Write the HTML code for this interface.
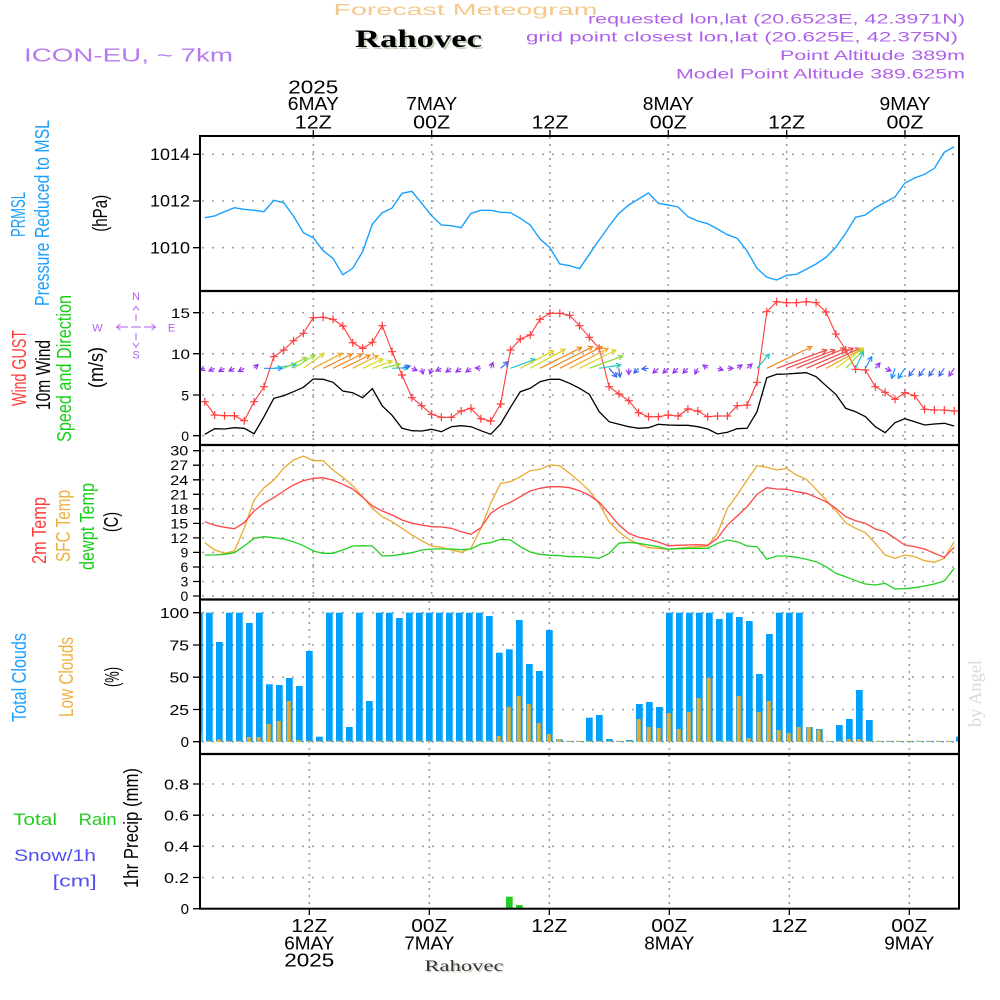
<!DOCTYPE html>
<html><head><meta charset="utf-8"><style>
html,body{margin:0;padding:0;background:#fff;}
svg{display:block;font-family:"Liberation Sans",sans-serif;}
</style></head><body>
<svg width="1000" height="1000" viewBox="0 0 1000 1000" xmlns="http://www.w3.org/2000/svg">
<defs>
<clipPath id="cp"><rect x="200" y="136" width="759" height="773"/></clipPath>
<marker id="pl" markerUnits="userSpaceOnUse" markerWidth="10" markerHeight="10" refX="5" refY="5" orient="0" viewBox="0 0 10 10" overflow="visible"><path d="M1,5H9M5,1V9" stroke="#ff3c3c" stroke-width="1.2" fill="none"/></marker>
<marker id="aP" markerUnits="userSpaceOnUse" markerWidth="8" markerHeight="8" refX="0" refY="0" viewBox="-6 -4 8 8" orient="auto" overflow="visible"><path d="M-4.5,-2.5L0,0L-4.5,2.5" fill="none" stroke="#9933ee" stroke-width="1.2"/></marker>
<marker id="aB" markerUnits="userSpaceOnUse" markerWidth="8" markerHeight="8" refX="0" refY="0" viewBox="-6 -4 8 8" orient="auto" overflow="visible"><path d="M-4.5,-2.5L0,0L-4.5,2.5" fill="none" stroke="#3366ee" stroke-width="1.2"/></marker>
<marker id="aC" markerUnits="userSpaceOnUse" markerWidth="8" markerHeight="8" refX="0" refY="0" viewBox="-6 -4 8 8" orient="auto" overflow="visible"><path d="M-4.5,-2.5L0,0L-4.5,2.5" fill="none" stroke="#1e90ff" stroke-width="1.2"/></marker>
<marker id="aT" markerUnits="userSpaceOnUse" markerWidth="8" markerHeight="8" refX="0" refY="0" viewBox="-6 -4 8 8" orient="auto" overflow="visible"><path d="M-4.5,-2.5L0,0L-4.5,2.5" fill="none" stroke="#22c8c0" stroke-width="1.2"/></marker>
<marker id="aG" markerUnits="userSpaceOnUse" markerWidth="8" markerHeight="8" refX="0" refY="0" viewBox="-6 -4 8 8" orient="auto" overflow="visible"><path d="M-4.5,-2.5L0,0L-4.5,2.5" fill="none" stroke="#90d838" stroke-width="1.2"/></marker>
<marker id="aY" markerUnits="userSpaceOnUse" markerWidth="8" markerHeight="8" refX="0" refY="0" viewBox="-6 -4 8 8" orient="auto" overflow="visible"><path d="M-4.5,-2.5L0,0L-4.5,2.5" fill="none" stroke="#dcd420" stroke-width="1.2"/></marker>
<marker id="aO" markerUnits="userSpaceOnUse" markerWidth="8" markerHeight="8" refX="0" refY="0" viewBox="-6 -4 8 8" orient="auto" overflow="visible"><path d="M-4.5,-2.5L0,0L-4.5,2.5" fill="none" stroke="#f0aa22" stroke-width="1.2"/></marker>
<marker id="aR" markerUnits="userSpaceOnUse" markerWidth="8" markerHeight="8" refX="0" refY="0" viewBox="-6 -4 8 8" orient="auto" overflow="visible"><path d="M-4.5,-2.5L0,0L-4.5,2.5" fill="none" stroke="#f08a22" stroke-width="1.2"/></marker>
<marker id="aD" markerUnits="userSpaceOnUse" markerWidth="8" markerHeight="8" refX="0" refY="0" viewBox="-6 -4 8 8" orient="auto" overflow="visible"><path d="M-4.5,-2.5L0,0L-4.5,2.5" fill="none" stroke="#f04848" stroke-width="1.2"/></marker>
</defs>

<!-- Header -->
<text x="333.5" y="15" font-size="16" fill="#f5c98a" textLength="264" lengthAdjust="spacingAndGlyphs">Forecast Meteogram</text>
<text x="357" y="49" font-family="Liberation Serif, serif" font-weight="bold" font-size="25" fill="#c4d2bc" textLength="127" lengthAdjust="spacingAndGlyphs">Rahovec</text>
<text x="355" y="47" font-family="Liberation Serif, serif" font-weight="bold" font-size="25" fill="#000" textLength="127" lengthAdjust="spacingAndGlyphs">Rahovec</text>
<text x="24" y="61.5" font-size="18.5" fill="#b57af0" textLength="209" lengthAdjust="spacingAndGlyphs">ICON-EU, ~ 7km</text>
<g font-size="14" fill="#b060e8" text-anchor="end">
<text x="965" y="23.3" textLength="377" lengthAdjust="spacingAndGlyphs">requested lon,lat (20.6523E, 42.3971N)</text>
<text x="958" y="41.7" textLength="432" lengthAdjust="spacingAndGlyphs">grid point closest lon,lat (20.625E, 42.375N)</text>
<text x="965" y="60" textLength="185" lengthAdjust="spacingAndGlyphs">Point Altitude 389m</text>
<text x="965" y="78.3" textLength="289" lengthAdjust="spacingAndGlyphs">Model Point Altitude 389.625m</text>
</g>

<!-- Top time labels -->
<g font-size="18.5" fill="#000" text-anchor="middle">
<text x="313.3" y="93.3" textLength="50" lengthAdjust="spacingAndGlyphs">2025</text>
<text x="313.3" y="110" textLength="51" lengthAdjust="spacingAndGlyphs">6MAY</text>
<text x="313.3" y="128.3" textLength="37" lengthAdjust="spacingAndGlyphs">12Z</text>
<text x="431.7" y="110" textLength="51" lengthAdjust="spacingAndGlyphs">7MAY</text>
<text x="431.7" y="128.3" textLength="37" lengthAdjust="spacingAndGlyphs">00Z</text>
<text x="550" y="128.3" textLength="37" lengthAdjust="spacingAndGlyphs">12Z</text>
<text x="668.3" y="110" textLength="51" lengthAdjust="spacingAndGlyphs">8MAY</text>
<text x="668.3" y="128.3" textLength="37" lengthAdjust="spacingAndGlyphs">00Z</text>
<text x="786.7" y="128.3" textLength="37" lengthAdjust="spacingAndGlyphs">12Z</text>
<text x="905" y="110" textLength="51" lengthAdjust="spacingAndGlyphs">9MAY</text>
<text x="905" y="128.3" textLength="37" lengthAdjust="spacingAndGlyphs">00Z</text>
</g>

<!-- Bottom time labels -->
<g font-size="18.5" fill="#000" text-anchor="middle">
<text x="309.3" y="932" textLength="36" lengthAdjust="spacingAndGlyphs">12Z</text>
<text x="309.3" y="949.3" textLength="50" lengthAdjust="spacingAndGlyphs">6MAY</text>
<text x="309.3" y="966.7" textLength="50" lengthAdjust="spacingAndGlyphs">2025</text>
<text x="429.3" y="932" textLength="36" lengthAdjust="spacingAndGlyphs">00Z</text>
<text x="429.3" y="949.3" textLength="50" lengthAdjust="spacingAndGlyphs">7MAY</text>
<text x="549.3" y="932" textLength="36" lengthAdjust="spacingAndGlyphs">12Z</text>
<text x="669.3" y="932" textLength="36" lengthAdjust="spacingAndGlyphs">00Z</text>
<text x="669.3" y="949.3" textLength="50" lengthAdjust="spacingAndGlyphs">8MAY</text>
<text x="789.3" y="932" textLength="36" lengthAdjust="spacingAndGlyphs">12Z</text>
<text x="909.3" y="932" textLength="36" lengthAdjust="spacingAndGlyphs">00Z</text>
<text x="909.3" y="949.3" textLength="50" lengthAdjust="spacingAndGlyphs">9MAY</text>
</g>
<text x="426" y="972.5" font-family="Liberation Serif, serif" font-size="16" fill="#c8d6c0" textLength="79" lengthAdjust="spacingAndGlyphs">Rahovec</text>
<text x="424.5" y="971" font-family="Liberation Serif, serif" font-size="16" fill="#333" textLength="79" lengthAdjust="spacingAndGlyphs">Rahovec</text>
<text transform="translate(981,693.5) rotate(-90)" text-anchor="middle" font-family="Liberation Serif, serif" font-size="18" fill="#d4ddd2" textLength="67" lengthAdjust="spacingAndGlyphs">by Angel</text>

<!-- Left rotated labels -->
<g font-size="20" text-anchor="middle" lengthAdjust="spacingAndGlyphs">
<text transform="translate(25,214.5) rotate(-90)" fill="#1a9fff" textLength="45" lengthAdjust="spacingAndGlyphs">PRMSL</text>
<text transform="translate(49,213) rotate(-90)" fill="#1a9fff" textLength="186" lengthAdjust="spacingAndGlyphs">Pressure Reduced to MSL</text>
<text transform="translate(107,213.3) rotate(-90)" fill="#000" textLength="37" lengthAdjust="spacingAndGlyphs">(hPa)</text>
<text transform="translate(26,368) rotate(-90)" fill="#ff3c3c" textLength="76" lengthAdjust="spacingAndGlyphs">Wind GUST</text>
<text transform="translate(50,375) rotate(-90)" fill="#000" textLength="70" lengthAdjust="spacingAndGlyphs">10m Wind</text>
<text transform="translate(71,368.5) rotate(-90)" fill="#14d014" textLength="147" lengthAdjust="spacingAndGlyphs">Speed and Direction</text>
<text transform="translate(103,367.5) rotate(-90)" fill="#000" textLength="41" lengthAdjust="spacingAndGlyphs">(m/s)</text>
<text transform="translate(46,530.5) rotate(-90)" fill="#ff3c3c" textLength="67" lengthAdjust="spacingAndGlyphs">2m Temp</text>
<text transform="translate(70,526) rotate(-90)" fill="#eeb040" textLength="72" lengthAdjust="spacingAndGlyphs">SFC Temp</text>
<text transform="translate(94,526.5) rotate(-90)" fill="#14d014" textLength="87" lengthAdjust="spacingAndGlyphs">dewpt Temp</text>
<text transform="translate(118,522) rotate(-90)" fill="#000" textLength="20" lengthAdjust="spacingAndGlyphs">(C)</text>
<text transform="translate(26,677.5) rotate(-90)" fill="#1a9fff" textLength="89" lengthAdjust="spacingAndGlyphs">Total Clouds</text>
<text transform="translate(73,677) rotate(-90)" fill="#eeb040" textLength="80" lengthAdjust="spacingAndGlyphs">Low Clouds</text>
<text transform="translate(119,677) rotate(-90)" fill="#000" textLength="20" lengthAdjust="spacingAndGlyphs">(%)</text>
<text transform="translate(138,828) rotate(-90)" fill="#000" textLength="120" lengthAdjust="spacingAndGlyphs">1hr Precip (mm)</text>
</g>
<g font-size="17">
<text x="13" y="825" fill="#22cc22" textLength="44" lengthAdjust="spacingAndGlyphs">Total</text>
<text x="78.7" y="825" fill="#22cc22" textLength="38" lengthAdjust="spacingAndGlyphs">Rain</text>
<text x="14" y="861" fill="#5050f0" textLength="82" lengthAdjust="spacingAndGlyphs">Snow/1h</text>
<text x="52.7" y="886.5" fill="#5050f0" textLength="44" lengthAdjust="spacingAndGlyphs">[cm]</text>
</g>

<!-- Compass -->
<g fill="#b060f0" font-size="11" text-anchor="middle">
<text x="136" y="300">N</text>
<text x="97.5" y="331.5">W</text>
<text x="171.5" y="331.5">E</text>
<text x="136" y="358.5">S</text>
</g>
<path d="M117,327H128M131,327H141M144,327H155M120.5,324L116.5,327L120.5,330M151.5,324L155.5,327L151.5,330M136,314V321M136,333V340M133,310.5L136,306.5L139,310.5M133,343L136,347L139,343" stroke="#b060f0" stroke-width="1" fill="none"/>

<!-- Grid lines -->
<g stroke="#a0a0a0" stroke-width="1.6" stroke-dasharray="2 8" fill="none">
<path d="M202,154.3H959M202,201H959M202,247.7H959M202,312.7H959M202,353.7H959M202,395H959M202,435.7H959M202,450.7H959M202,465.2H959M202,479.8H959M202,494.3H959M202,508.8H959M202,523.4H959M202,537.9H959M202,552.4H959M202,567H959M202,581.5H959M202,596H959M202,612.7H959M202,645H959M202,677.2H959M202,709.5H959M202,741.7H959M202,784H959M202,815.2H959M202,846.3H959M202,877.5H959"/>
</g>
<g stroke="#a0a0a0" stroke-width="1.6" stroke-dasharray="2 5" fill="none">
<path d="M313.3,137V599M431.7,137V599M550,137V599M668.3,137V599M786.7,137V599M905,137V599"/>
<path d="M309.3,601V908M429.3,601V908M549.3,601V908M669.3,601V908M789.3,601V908M909.3,601V908"/>
</g>

<!-- Y tick labels -->
<g font-size="16.3" text-anchor="end" fill="#000">
<text x="190" y="160" textLength="40" lengthAdjust="spacingAndGlyphs">1014</text>
<text x="190" y="206.7" textLength="40" lengthAdjust="spacingAndGlyphs">1012</text>
<text x="190" y="253.3" textLength="40" lengthAdjust="spacingAndGlyphs">1010</text>
</g>
<g font-size="14" text-anchor="end" fill="#000">
<text x="190" y="318.2" textLength="19" lengthAdjust="spacingAndGlyphs">15</text>
<text x="190" y="359.2" textLength="19" lengthAdjust="spacingAndGlyphs">10</text>
<text x="189" y="400.5">5</text>
<text x="189" y="441.2">0</text>
<text x="188.3" y="455.7" textLength="18" lengthAdjust="spacingAndGlyphs">30</text>
<text x="188.3" y="470.2" textLength="18" lengthAdjust="spacingAndGlyphs">27</text>
<text x="188.3" y="484.8" textLength="18" lengthAdjust="spacingAndGlyphs">24</text>
<text x="188.3" y="499.3" textLength="18" lengthAdjust="spacingAndGlyphs">21</text>
<text x="188.3" y="513.8" textLength="18" lengthAdjust="spacingAndGlyphs">18</text>
<text x="188.3" y="528.4" textLength="18" lengthAdjust="spacingAndGlyphs">15</text>
<text x="188.3" y="542.9" textLength="18" lengthAdjust="spacingAndGlyphs">12</text>
<text x="188.3" y="557.4">9</text>
<text x="188.3" y="572">6</text>
<text x="188.3" y="586.5">3</text>
<text x="188.3" y="601">0</text>
</g>
<g font-size="15" text-anchor="end" fill="#000">
<text x="189" y="618.2" textLength="29" lengthAdjust="spacingAndGlyphs">100</text>
<text x="189" y="650.5" textLength="19.5" lengthAdjust="spacingAndGlyphs">75</text>
<text x="189" y="682.7" textLength="19.5" lengthAdjust="spacingAndGlyphs">50</text>
<text x="189" y="715" textLength="19.5" lengthAdjust="spacingAndGlyphs">25</text>
<text x="189" y="747.2">0</text>
<text x="189" y="789.3" textLength="25" lengthAdjust="spacingAndGlyphs">0.8</text>
<text x="189" y="820.5" textLength="25" lengthAdjust="spacingAndGlyphs">0.6</text>
<text x="189" y="851.6" textLength="25" lengthAdjust="spacingAndGlyphs">0.4</text>
<text x="189" y="882.8" textLength="25" lengthAdjust="spacingAndGlyphs">0.2</text>
<text x="189" y="914">0</text>
</g>

<!-- ticks -->
<path d="M193,154.3H200M193,201H200M193,247.7H200M193,312.7H200M193,353.7H200M193,395H200M193,435.7H200M193,450.7H200M193,465.2H200M193,479.8H200M193,494.3H200M193,508.8H200M193,523.4H200M193,537.9H200M193,552.4H200M193,567H200M193,581.5H200M193,596H200M193,612.7H200M193,645H200M193,677.2H200M193,709.5H200M193,741.7H200M193,784H200M193,815.2H200M193,846.3H200M193,877.5H200M193,908.7H200M313.3,130V136M431.7,130V136M550,130V136M668.3,130V136M786.7,130V136M905,130V136M309.3,909V915M429.3,909V915M549.3,909V915M669.3,909V915M789.3,909V915M909.3,909V915" stroke="#000" stroke-width="1.3" fill="none"/>

<g clip-path="url(#cp)">
<!-- Clouds total -->
<g fill="#00a0ff">
<rect x="200" y="612.7" width="2.7" height="129"/>
<rect x="206" y="612.7" width="6.7" height="129"/>
<rect x="216" y="642" width="6.7" height="99.7"/>
<rect x="226" y="612.7" width="6.7" height="129"/>
<rect x="236" y="612.7" width="6.7" height="129"/>
<rect x="246" y="623" width="6.7" height="118.7"/>
<rect x="256" y="612.7" width="6.7" height="129"/>
<rect x="266" y="684.3" width="6.7" height="57.4"/>
<rect x="276" y="685" width="6.7" height="56.7"/>
<rect x="286" y="678" width="6.7" height="63.7"/>
<rect x="296" y="686" width="6.7" height="55.7"/>
<rect x="306" y="651" width="6.7" height="90.7"/>
<rect x="316" y="736.7" width="6.7" height="5"/>
<rect x="326" y="612.7" width="6.7" height="129"/>
<rect x="336" y="612.7" width="6.7" height="129"/>
<rect x="346" y="727" width="6.7" height="14.7"/>
<rect x="356" y="612.7" width="6.7" height="129"/>
<rect x="366" y="701" width="6.7" height="40.7"/>
<rect x="376" y="612.7" width="6.7" height="129"/>
<rect x="386" y="612.7" width="6.7" height="129"/>
<rect x="396" y="618" width="6.7" height="123.7"/>
<rect x="406" y="612.7" width="6.7" height="129"/>
<rect x="416" y="612.7" width="6.7" height="129"/>
<rect x="426" y="612.7" width="6.7" height="129"/>
<rect x="436" y="612.7" width="6.7" height="129"/>
<rect x="446" y="612.7" width="6.7" height="129"/>
<rect x="456" y="612.7" width="6.7" height="129"/>
<rect x="466" y="612.7" width="6.7" height="129"/>
<rect x="476" y="612.7" width="6.7" height="129"/>
<rect x="486" y="616" width="6.7" height="125.7"/>
<rect x="496" y="652.7" width="6.7" height="89"/>
<rect x="506" y="649.3" width="6.7" height="92.4"/>
<rect x="516" y="620" width="6.7" height="121.7"/>
<rect x="526" y="664" width="6.7" height="77.7"/>
<rect x="536" y="671" width="6.7" height="70.7"/>
<rect x="546" y="630" width="6.7" height="111.7"/>
<rect x="556" y="739.3" width="6.7" height="2.4"/>
<rect x="566" y="741" width="6.7" height="0.8"/>
<rect x="576" y="741" width="6.7" height="0.8"/>
<rect x="586" y="717.7" width="6.7" height="24"/>
<rect x="596" y="715" width="6.7" height="26.7"/>
<rect x="606" y="739" width="6.7" height="2.7"/>
<rect x="616" y="741" width="6.7" height="0.8"/>
<rect x="626" y="740" width="6.7" height="1.7"/>
<rect x="636" y="704" width="6.7" height="37.7"/>
<rect x="646" y="702" width="6.7" height="39.7"/>
<rect x="656" y="707" width="6.7" height="34.7"/>
<rect x="666" y="612.7" width="6.7" height="129"/>
<rect x="676" y="612.7" width="6.7" height="129"/>
<rect x="686" y="612.7" width="6.7" height="129"/>
<rect x="696" y="612.7" width="6.7" height="129"/>
<rect x="706" y="612.7" width="6.7" height="129"/>
<rect x="716" y="619" width="6.7" height="122.7"/>
<rect x="726" y="612.7" width="6.7" height="129"/>
<rect x="736" y="617" width="6.7" height="124.7"/>
<rect x="746" y="621" width="6.7" height="120.7"/>
<rect x="756" y="674" width="6.7" height="67.7"/>
<rect x="766" y="634" width="6.7" height="107.7"/>
<rect x="776" y="612.7" width="6.7" height="129"/>
<rect x="786" y="612.7" width="6.7" height="129"/>
<rect x="796" y="612.7" width="6.7" height="129"/>
<rect x="806" y="727" width="6.7" height="14.7"/>
<rect x="816" y="729" width="6.7" height="12.7"/>
<rect x="826" y="741" width="6.7" height="0.8"/>
<rect x="836" y="725" width="6.7" height="16.7"/>
<rect x="846" y="719" width="6.7" height="22.7"/>
<rect x="856" y="690" width="6.7" height="51.7"/>
<rect x="866" y="720" width="6.7" height="21.7"/>
<rect x="876" y="741" width="6.7" height="0.8"/>
<rect x="886" y="741" width="6.7" height="0.8"/>
<rect x="896" y="741" width="6.7" height="0.8"/>
<rect x="906" y="741" width="6.7" height="0.8"/>
<rect x="916" y="741" width="6.7" height="0.8"/>
<rect x="926" y="741" width="6.7" height="0.8"/>
<rect x="936" y="741" width="6.7" height="0.8"/>
<rect x="946" y="741" width="6.7" height="0.8"/>
<rect x="956" y="736.7" width="3" height="5"/>
</g>
<!-- Low clouds -->
<path d="M196.7,741.2H960" stroke="#e8aa28" stroke-width="1" stroke-dasharray="4 6" fill="none"/>
<g fill="#e8aa28">
<rect x="200" y="731" width="1.7" height="10.7"/>
<rect x="216.7" y="739.3" width="4" height="2.4"/>
<rect x="246.7" y="737" width="4" height="4.7"/>
<rect x="256.7" y="737" width="4" height="4.7"/>
<rect x="266.7" y="724" width="4" height="17.7"/>
<rect x="276.7" y="721" width="4" height="20.7"/>
<rect x="286.7" y="701" width="4" height="40.7"/>
<rect x="296.7" y="740" width="4" height="1.7"/>
<rect x="496.7" y="736" width="4" height="5.7"/>
<rect x="506.7" y="707" width="4" height="34.7"/>
<rect x="516.7" y="696" width="4" height="45.7"/>
<rect x="526.7" y="704" width="4" height="37.7"/>
<rect x="536.7" y="723" width="4" height="18.7"/>
<rect x="546.7" y="734" width="4" height="7.7"/>
<rect x="556.7" y="739.3" width="4" height="2.4"/>
<rect x="636.7" y="719" width="4" height="22.7"/>
<rect x="646.7" y="727" width="4" height="14.7"/>
<rect x="656.7" y="728" width="4" height="13.7"/>
<rect x="666.7" y="713" width="4" height="28.7"/>
<rect x="676.7" y="729" width="4" height="12.7"/>
<rect x="686.7" y="712" width="4" height="29.7"/>
<rect x="696.7" y="698" width="4" height="43.7"/>
<rect x="706.7" y="677.7" width="4" height="64"/>
<rect x="736.7" y="696" width="4" height="45.7"/>
<rect x="746.7" y="738" width="4" height="3.7"/>
<rect x="756.7" y="712" width="4" height="29.7"/>
<rect x="766.7" y="701" width="4" height="40.7"/>
<rect x="776.7" y="730" width="4" height="11.7"/>
<rect x="786.7" y="733" width="4" height="8.7"/>
<rect x="796.7" y="727" width="4" height="14.7"/>
<rect x="806.7" y="727" width="4" height="14.7"/>
<rect x="816.7" y="729.7" width="4" height="12"/>
<rect x="846.7" y="739" width="4" height="2.7"/>
<rect x="856.7" y="739" width="4" height="2.7"/>
</g>
<!-- Precip -->
<g fill="#22cc22">
<rect x="506" y="896.7" width="6.7" height="12"/>
<rect x="516" y="905" width="6.7" height="3.7"/>
</g>

<!-- Pressure -->
<polyline fill="none" stroke="#18a0ff" stroke-width="1.4" points="204.8,217.7 214.7,216 224.5,211.7 234.4,207.7 244.2,209.3 254.1,210.3 264,211.7 273.8,200.3 283.7,202.7 293.5,216 303.4,232.7 313.3,237.7 323.1,250.7 333,258.3 342.8,274.7 352.7,268.3 362.6,251.7 372.4,224 382.3,212.7 392.1,208 402,193.3 411.9,191.3 421.7,203.3 431.6,215.7 441.4,225 451.3,225.7 461.2,227.7 471,213.3 480.9,210.3 490.7,210.3 500.6,212.3 510.5,212.7 520.3,218.3 530.2,225 540,239 549.9,247.7 559.8,264 569.6,265.7 579.5,268.7 589.3,254.3 599.2,240 609.1,226 618.9,213.3 628.8,205 638.6,199 648.5,193 658.4,203.3 668.2,205 678.1,207 687.9,216.7 697.8,221 707.7,223.7 717.5,229 727.4,234.7 737.2,238.3 747.1,251 757,268.3 766.8,277.3 776.7,280 786.5,275.3 796.4,274.3 806.3,269.3 816.1,264 826,257.3 835.8,247.3 845.7,233.3 855.6,217.3 865.4,215 875.3,207.7 885.1,202.3 895,197 904.9,183 914.7,178 924.6,174.3 934.4,168.3 944.3,152.3 954.2,146.7"/>

<!-- Wind speed -->
<polyline fill="none" stroke="#000" stroke-width="1.3" points="204.8,434.3 214.7,428.7 224.5,429 234.4,427.7 244.2,428.3 254.1,433.7 264,416.7 273.8,398.3 283.7,395.7 293.5,391.7 303.4,387.3 313.3,379 323.1,379.3 333,382.3 342.8,391 352.7,392.7 362.6,397.7 372.4,388.7 382.3,406 392.1,415.3 402,428.3 411.9,430.7 421.7,431 431.6,429.3 441.4,431.7 451.3,426.7 461.2,425.7 471,426.7 480.9,430.7 490.7,434.3 500.6,424 510.5,407.3 520.3,391.7 530.2,388.3 540,381.7 549.9,379.3 559.8,379.3 569.6,383.3 579.5,388.3 589.3,394.3 599.2,411.7 609.1,421.7 618.9,424.3 628.8,426.7 638.6,428.3 648.5,427.7 658.4,424.3 668.2,425 678.1,425.3 687.9,425.3 697.8,426.7 707.7,429 717.5,434 727.4,432.3 737.2,428.7 747.1,428.3 757,411.7 766.8,377.7 776.7,374.3 786.5,374 796.4,373.3 806.3,372.7 816.1,376.7 826,385.7 835.8,394.3 845.7,408.3 855.6,411.7 865.4,416.7 875.3,426.7 885.1,432.7 895,422.7 904.9,418.7 914.7,421.7 924.6,425 934.4,424 944.3,423.3 954.2,426"/>

<!-- Gust -->
<polyline fill="none" stroke="#ff3c3c" stroke-width="1.1" marker-start="url(#pl)" marker-mid="url(#pl)" marker-end="url(#pl)" points="204.8,401.7 214.7,415 224.5,415.7 234.4,415.7 244.2,420.7 254.1,401.7 264,386.7 273.8,356.7 283.7,350 293.5,340.7 303.4,333.3 313.3,317.7 323.1,317.3 333,319.3 342.8,326 352.7,342.7 362.6,348.3 372.4,342.3 382.3,325.7 392.1,351.7 402,375 411.9,397.7 421.7,405.7 431.6,414.3 441.4,417.3 451.3,417.3 461.2,411 471,408.3 480.9,418.7 490.7,421 500.6,404 510.5,350 520.3,339 530.2,335 540,319.3 549.9,313.3 559.8,313.3 569.6,315.3 579.5,325.7 589.3,337.3 599.2,348.3 609.1,386.7 618.9,394 628.8,400.7 638.6,412.7 648.5,416.7 658.4,416.7 668.2,415 678.1,416 687.9,409 697.8,411 707.7,416.7 717.5,416 727.4,416 737.2,405.7 747.1,405 757,382.3 766.8,311.7 776.7,301.7 786.5,302.7 796.4,302.7 806.3,301.7 816.1,302.7 826,312 835.8,334 845.7,350 855.6,369.3 865.4,370 875.3,386.7 885.1,392.3 895,399.3 904.9,392.7 914.7,395.7 924.6,409.3 934.4,410 944.3,410 954.2,411"/>

<!-- Wind arrows -->
<g stroke-width="1.2" fill="none">
<line x1="204.8" y1="368.3" x2="200.5" y2="370" stroke="#9933ee" marker-end="url(#aP)"/>
<line x1="214.7" y1="368.3" x2="209" y2="371" stroke="#9933ee" marker-end="url(#aP)"/>
<line x1="224.5" y1="368.3" x2="219" y2="371.5" stroke="#9933ee" marker-end="url(#aP)"/>
<line x1="234.4" y1="368.3" x2="229" y2="371" stroke="#9933ee" marker-end="url(#aP)"/>
<line x1="244.2" y1="368.3" x2="238.5" y2="371.5" stroke="#9933ee" marker-end="url(#aP)"/>
<line x1="254.1" y1="368.3" x2="258" y2="364.5" stroke="#9933ee" marker-end="url(#aP)"/>
<line x1="264" y1="368.3" x2="282.3" y2="368.3" stroke="#1e90ff" marker-end="url(#aC)"/>
<line x1="273.8" y1="368.3" x2="296" y2="364.5" stroke="#22c8c0" marker-end="url(#aT)"/>
<line x1="283.7" y1="368.3" x2="306.7" y2="357.7" stroke="#90d838" marker-end="url(#aG)"/>
<line x1="293.5" y1="368.3" x2="315" y2="355" stroke="#90d838" marker-end="url(#aG)"/>
<line x1="303.4" y1="368.3" x2="324" y2="353.5" stroke="#dcd420" marker-end="url(#aY)"/>
<line x1="313.3" y1="368.3" x2="342" y2="353.3" stroke="#f0aa22" marker-end="url(#aO)"/>
<line x1="323.1" y1="368.3" x2="352" y2="354" stroke="#f08a22" marker-end="url(#aR)"/>
<line x1="333" y1="368.3" x2="362" y2="354" stroke="#f08a22" marker-end="url(#aR)"/>
<line x1="342.8" y1="368.3" x2="370" y2="355" stroke="#f08a22" marker-end="url(#aR)"/>
<line x1="352.7" y1="368.3" x2="378" y2="355.5" stroke="#f0aa22" marker-end="url(#aO)"/>
<line x1="362.6" y1="368.3" x2="383" y2="359" stroke="#dcd420" marker-end="url(#aY)"/>
<line x1="372.4" y1="368.3" x2="392" y2="361" stroke="#dcd420" marker-end="url(#aY)"/>
<line x1="382.3" y1="368.3" x2="400" y2="364" stroke="#90d838" marker-end="url(#aG)"/>
<line x1="392.1" y1="368.3" x2="408" y2="367.7" stroke="#22c8c0" marker-end="url(#aT)"/>
<line x1="402" y1="368.3" x2="410" y2="366" stroke="#3366ee" marker-end="url(#aB)"/>
<line x1="411.9" y1="368.3" x2="417" y2="370.5" stroke="#9933ee" marker-end="url(#aP)"/>
<line x1="421.7" y1="368.3" x2="423" y2="374" stroke="#9933ee" marker-end="url(#aP)"/>
<line x1="431.6" y1="368.3" x2="430" y2="374" stroke="#9933ee" marker-end="url(#aP)"/>
<line x1="441.4" y1="368.3" x2="436" y2="371" stroke="#9933ee" marker-end="url(#aP)"/>
<line x1="451.3" y1="368.3" x2="446" y2="372" stroke="#9933ee" marker-end="url(#aP)"/>
<line x1="461.2" y1="368.3" x2="456" y2="372" stroke="#9933ee" marker-end="url(#aP)"/>
<line x1="471" y1="368.3" x2="466" y2="372" stroke="#9933ee" marker-end="url(#aP)"/>
<line x1="480.9" y1="368.3" x2="475.5" y2="368" stroke="#9933ee" marker-end="url(#aP)"/>
<line x1="490.7" y1="368.3" x2="493" y2="362.5" stroke="#9933ee" marker-end="url(#aP)"/>
<line x1="500.6" y1="368.3" x2="508" y2="361.7" stroke="#3366ee" marker-end="url(#aB)"/>
<line x1="510.5" y1="368.3" x2="535" y2="359.3" stroke="#22c8c0" marker-end="url(#aT)"/>
<line x1="520.3" y1="368.3" x2="553.3" y2="350.7" stroke="#dcd420" marker-end="url(#aY)"/>
<line x1="530.2" y1="368.3" x2="565" y2="349.3" stroke="#dcd420" marker-end="url(#aY)"/>
<line x1="540" y1="368.3" x2="581.7" y2="347.3" stroke="#f08a22" marker-end="url(#aR)"/>
<line x1="549.9" y1="368.3" x2="592.7" y2="346.7" stroke="#f08a22" marker-end="url(#aR)"/>
<line x1="559.8" y1="368.3" x2="601.7" y2="346.7" stroke="#f08a22" marker-end="url(#aR)"/>
<line x1="569.6" y1="368.3" x2="608.3" y2="348.3" stroke="#f0aa22" marker-end="url(#aO)"/>
<line x1="579.5" y1="368.3" x2="616" y2="350" stroke="#dcd420" marker-end="url(#aY)"/>
<line x1="589.3" y1="368.3" x2="622.7" y2="356" stroke="#90d838" marker-end="url(#aG)"/>
<line x1="599.2" y1="368.3" x2="620.7" y2="365" stroke="#22c8c0" marker-end="url(#aT)"/>
<line x1="609.1" y1="368.3" x2="616.7" y2="377" stroke="#3366ee" marker-end="url(#aB)"/>
<line x1="618.9" y1="368.3" x2="620" y2="377" stroke="#3366ee" marker-end="url(#aB)"/>
<line x1="628.8" y1="368.3" x2="628.8" y2="374.5" stroke="#9933ee" marker-end="url(#aP)"/>
<line x1="638.6" y1="368.3" x2="634" y2="373" stroke="#3366ee" marker-end="url(#aB)"/>
<line x1="648.5" y1="368.3" x2="642" y2="369" stroke="#3366ee" marker-end="url(#aB)"/>
<line x1="658.4" y1="368.3" x2="653" y2="373" stroke="#9933ee" marker-end="url(#aP)"/>
<line x1="668.2" y1="368.3" x2="663" y2="373" stroke="#9933ee" marker-end="url(#aP)"/>
<line x1="678.1" y1="368.3" x2="673" y2="373" stroke="#9933ee" marker-end="url(#aP)"/>
<line x1="687.9" y1="368.3" x2="683" y2="373" stroke="#9933ee" marker-end="url(#aP)"/>
<line x1="697.8" y1="368.3" x2="695" y2="374" stroke="#9933ee" marker-end="url(#aP)"/>
<line x1="707.7" y1="368.3" x2="703" y2="365" stroke="#9933ee" marker-end="url(#aP)"/>
<line x1="717.5" y1="368.3" x2="723" y2="370" stroke="#9933ee" marker-end="url(#aP)"/>
<line x1="727.4" y1="368.3" x2="733" y2="368.3" stroke="#9933ee" marker-end="url(#aP)"/>
<line x1="737.2" y1="368.3" x2="742" y2="365" stroke="#9933ee" marker-end="url(#aP)"/>
<line x1="747.1" y1="368.3" x2="752" y2="364" stroke="#9933ee" marker-end="url(#aP)"/>
<line x1="757" y1="368.3" x2="769.3" y2="354" stroke="#22c8c0" marker-end="url(#aT)"/>
<line x1="766.8" y1="368.3" x2="811.7" y2="346.7" stroke="#f08a22" marker-end="url(#aR)"/>
<line x1="776.7" y1="368.3" x2="826.7" y2="350" stroke="#f04848" marker-end="url(#aD)"/>
<line x1="786.5" y1="368.3" x2="835" y2="350" stroke="#f04848" marker-end="url(#aD)"/>
<line x1="796.4" y1="368.3" x2="845" y2="348.3" stroke="#f04848" marker-end="url(#aD)"/>
<line x1="806.3" y1="368.3" x2="853.3" y2="348.3" stroke="#f04848" marker-end="url(#aD)"/>
<line x1="816.1" y1="368.3" x2="860" y2="348.3" stroke="#f04848" marker-end="url(#aD)"/>
<line x1="826" y1="368.3" x2="863.3" y2="348.3" stroke="#f0aa22" marker-end="url(#aO)"/>
<line x1="835.8" y1="368.3" x2="863.3" y2="348.3" stroke="#dcd420" marker-end="url(#aY)"/>
<line x1="845.7" y1="368.3" x2="863.3" y2="350" stroke="#90d838" marker-end="url(#aG)"/>
<line x1="855.6" y1="368.3" x2="863.3" y2="351.7" stroke="#22c8c0" marker-end="url(#aT)"/>
<line x1="865.4" y1="368.3" x2="871.7" y2="356.7" stroke="#1e90ff" marker-end="url(#aC)"/>
<line x1="875.3" y1="368.3" x2="880" y2="363" stroke="#9933ee" marker-end="url(#aP)"/>
<line x1="885.1" y1="368.3" x2="891" y2="371" stroke="#9933ee" marker-end="url(#aP)"/>
<line x1="895" y1="368.3" x2="891.7" y2="378.3" stroke="#1e90ff" marker-end="url(#aC)"/>
<line x1="904.9" y1="368.3" x2="898.3" y2="378.3" stroke="#1e90ff" marker-end="url(#aC)"/>
<line x1="914.7" y1="368.3" x2="909" y2="376" stroke="#3366ee" marker-end="url(#aB)"/>
<line x1="924.6" y1="368.3" x2="919" y2="376" stroke="#3366ee" marker-end="url(#aB)"/>
<line x1="934.4" y1="368.3" x2="929" y2="376" stroke="#3366ee" marker-end="url(#aB)"/>
<line x1="944.3" y1="368.3" x2="939" y2="376" stroke="#3366ee" marker-end="url(#aB)"/>
<line x1="954.2" y1="368.3" x2="949" y2="376" stroke="#9933ee" marker-end="url(#aP)"/>
</g>

<!-- Temperatures -->
<polyline fill="none" stroke="#eaaa30" stroke-width="1.3" points="204.8,542.7 214.7,550 224.5,553.3 234.4,551 244.2,528.3 254.1,500 264,487.7 273.8,480 283.7,468.3 293.5,460 303.4,456 313.3,460.7 323.1,460.7 333,470 342.8,477.3 352.7,485.7 362.6,496.7 372.4,508.3 382.3,516.7 392.1,521.7 402,528.3 411.9,535 421.7,540.7 431.6,546 441.4,547.3 451.3,550 461.2,552.3 471,548.3 480.9,528.3 490.7,503.3 500.6,483.3 510.5,481.7 520.3,476.7 530.2,470.7 540,469.3 549.9,465 559.8,465.7 569.6,473.3 579.5,481.7 589.3,490.7 599.2,504 609.1,521.7 618.9,531.7 628.8,539.3 638.6,544 648.5,547.7 658.4,548.3 668.2,549.3 678.1,548.3 687.9,547.3 697.8,546.7 707.7,546 717.5,533.3 727.4,508.3 737.2,495 747.1,480 757,465.7 766.8,467.3 776.7,470 786.5,468.3 796.4,475 806.3,479.3 816.1,489.3 826,500 835.8,510.7 845.7,522.7 855.6,528.3 865.4,532.7 875.3,543.3 885.1,555 895,558.3 904.9,555 914.7,556.7 924.6,560.7 934.4,562.3 944.3,558.3 954.2,541.7"/>
<polyline fill="none" stroke="#ff4444" stroke-width="1.3" points="204.8,521.7 214.7,525.3 224.5,527.3 234.4,528.7 244.2,522.7 254.1,511 264,503.3 273.8,497.7 283.7,491 293.5,485 303.4,480.7 313.3,478.3 323.1,477.7 333,480.3 342.8,484.3 352.7,489 362.6,497.3 372.4,506 382.3,511 392.1,515 402,520 411.9,523.3 421.7,525 431.6,526.7 441.4,527 451.3,528.3 461.2,531.7 471,534.3 480.9,527.7 490.7,513.3 500.6,506.7 510.5,502.3 520.3,496.7 530.2,491 540,488.3 549.9,486.7 559.8,486.7 569.6,487.7 579.5,490.7 589.3,495.3 599.2,502.3 609.1,513.3 618.9,525 628.8,533.3 638.6,537.3 648.5,539.3 658.4,542 668.2,545.7 678.1,545.3 687.9,545 697.8,544.7 707.7,545.3 717.5,538.3 727.4,525 737.2,516 747.1,506.7 757,494.3 766.8,487.7 776.7,489 786.5,489.3 796.4,491.7 806.3,493.3 816.1,497.3 826,501.7 835.8,508.3 845.7,516.7 855.6,520.7 865.4,523.3 875.3,529 885.1,531.7 895,538.3 904.9,545 914.7,546.7 924.6,549 934.4,553.3 944.3,557.3 954.2,547.3"/>
<polyline fill="none" stroke="#22d022" stroke-width="1.3" points="204.8,555 214.7,555 224.5,554.3 234.4,552.7 244.2,546 254.1,538.3 264,536.7 273.8,537.7 283.7,539 293.5,541.7 303.4,545.7 313.3,551 323.1,553.3 333,553.3 342.8,550 352.7,546 362.6,545.7 372.4,546 382.3,556 392.1,555.7 402,554.3 411.9,552.7 421.7,550 431.6,549 441.4,549 451.3,549 461.2,549.7 471,549 480.9,544 490.7,542.7 500.6,539.3 510.5,540 520.3,546.7 530.2,552 540,554.3 549.9,555.3 559.8,555.7 569.6,556.7 579.5,556.7 589.3,557.3 599.2,558.3 609.1,553.3 618.9,543.3 628.8,542.3 638.6,543.3 648.5,545 658.4,546.7 668.2,549.3 678.1,548.7 687.9,548.3 697.8,548.3 707.7,548.3 717.5,543.3 727.4,540 737.2,541.7 747.1,546 757,546.7 766.8,559.3 776.7,556 786.5,556 796.4,557.3 806.3,559.3 816.1,561.7 826,566.7 835.8,573.3 845.7,576.7 855.6,580.7 865.4,584 875.3,585 885.1,583.3 895,589 904.9,588.7 914.7,587.7 924.6,586 934.4,584 944.3,581 954.2,568.3"/>
</g>

<!-- Frames -->
<rect x="200" y="136" width="759" height="772.7" fill="none" stroke="#000" stroke-width="2"/>
<path d="M200,291H959M200,445H959M200,599.5H959M200,754H959" stroke="#000" stroke-width="2.2" fill="none"/>
</svg>
</body></html>
